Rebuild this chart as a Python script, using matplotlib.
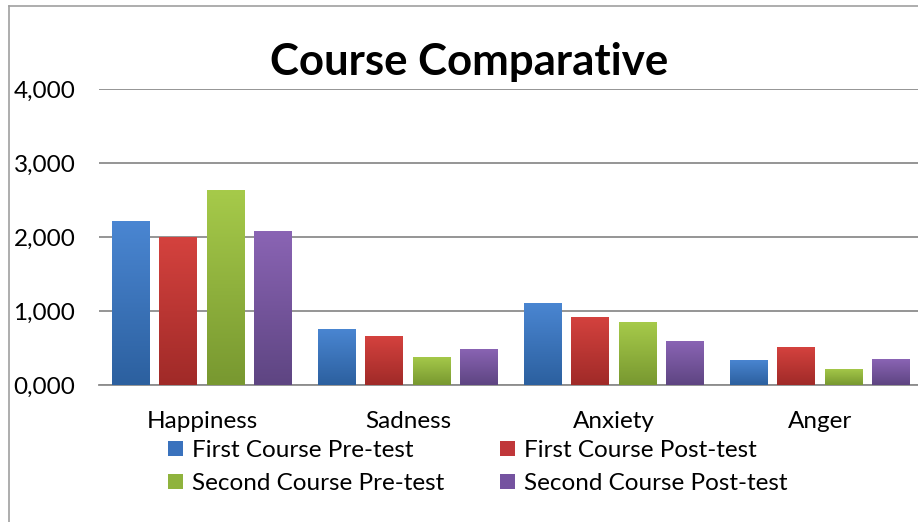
import matplotlib
matplotlib.use("Agg")
import matplotlib.pyplot as plt
import numpy as np
from matplotlib.lines import Line2D
from matplotlib.patches import Rectangle
from matplotlib.colors import LinearSegmentedColormap

categories = ["Happiness", "Sadness", "Anxiety", "Anger"]
series_names = ["First Course Pre-test", "First Course Post-test",
                "Second Course Pre-test", "Second Course Post-test"]
first_pre = [2.21, 0.76, 1.11, 0.34]
first_post = [2.00, 0.66, 0.92, 0.51]
second_pre = [2.63, 0.38, 0.85, 0.22]
second_post = [2.08, 0.49, 0.59, 0.35]
yticks = [0, 1, 2, 3, 4]
ytick_labels = ["0,000", "1,000", "2,000", "3,000", "4,000"]

series = [first_pre, first_post, second_pre, second_post]
top_colors = ["#4a86d2", "#d4423e", "#a6ca4a", "#8a64b4"]
bot_colors = ["#2c609f", "#a02a28", "#789830", "#5e4582"]
mid_colors = ["#3a72bd", "#c0373a", "#8fb33d", "#7553a0"]

FONT = "Lato"
FS = 17.5
W, H = 918, 522
fig = plt.figure(figsize=(W / 100, H / 100), dpi=100)
fig.patch.set_facecolor("white")


def fx(px):
    return px / W


def fy(py):
    return 1 - py / H


ax_left, ax_right, ax_top, ax_bot = 99, 923, 89, 385
ax = fig.add_axes([fx(ax_left), fy(ax_bot), (ax_right - ax_left) / W, (ax_bot - ax_top) / H])

# border of chart area
fig.add_artist(Line2D([fx(9), fx(9)], [0, fy(6)], color="#a0a0a0", lw=1.2, transform=fig.transFigure))
fig.add_artist(Line2D([fx(9), 1], [fy(6), fy(6)], color="#a0a0a0", lw=1.2, transform=fig.transFigure))

bar_w = 38 / 206
step = 47.5 / 206
x = np.arange(len(categories)) + 0.5
grad = np.linspace(0, 1, 128).reshape(-1, 1)
for i, vals in enumerate(series):
    offs = (i - 1.5) * step
    bars = ax.bar(x + offs, vals, width=bar_w, color="none", zorder=3,
                  label=series_names[i], linewidth=0)
    cmap = LinearSegmentedColormap.from_list("g%d" % i, [bot_colors[i], top_colors[i]])
    for b in bars:
        x0, y0 = b.get_x(), b.get_y()
        w, h = b.get_width(), b.get_height()
        im = ax.imshow(grad, cmap=cmap, origin="lower", aspect="auto",
                       extent=[x0, x0 + w, y0, y0 + h], zorder=3)
        im.set_clip_path(b)

ax.set_xlim(0, 4)
ax.set_ylim(0, 4)

ax.set_yticks(yticks)
ax.set_yticklabels(ytick_labels, fontfamily=FONT, fontsize=FS)
ax.set_xticks(x)
ax.set_xticklabels(categories, fontfamily=FONT, fontsize=FS)
ax.tick_params(axis="y", length=0, pad=17)
ax.tick_params(axis="x", length=0, pad=19)
ax.yaxis.grid(True, color="#8c8c8c", lw=1.3, zorder=1)
for s in ["left", "right", "top"]:
    ax.spines[s].set_visible(False)
ax.spines["bottom"].set_color("#8c8c8c")
ax.spines["bottom"].set_linewidth(1.3)

fig.text(fx(469), fy(75), "Course Comparative", fontfamily=FONT, fontweight="bold",
         fontsize=31.5, ha="center", va="baseline")

# legend (two columns, two rows)
leg_pos = [(168, 441), (500, 441), (168, 474), (500, 474)]
for i, (lx, ly) in enumerate(leg_pos):
    fig.add_artist(Rectangle((fx(lx), fy(ly + 15)), 15 / W, 15 / H, transform=fig.transFigure,
                             facecolor=mid_colors[i], edgecolor="none"))
    fig.text(fx(lx + 24), fy(ly + 16), series_names[i], fontfamily=FONT, fontsize=FS,
             ha="left", va="baseline")

fig.savefig("out.png", dpi=100, facecolor="white")
